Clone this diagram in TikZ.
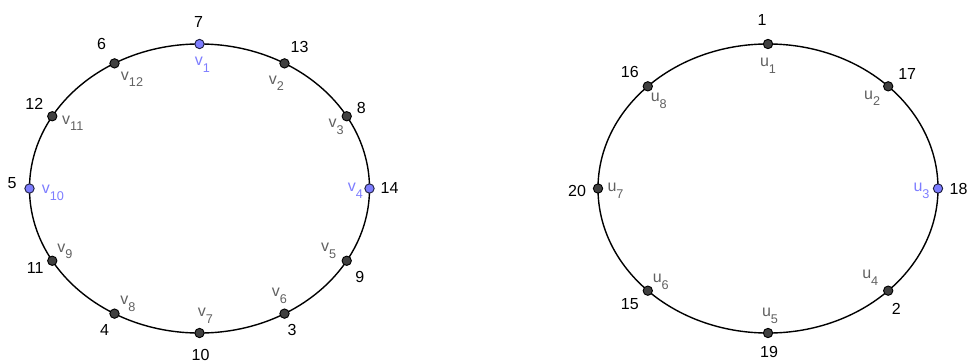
\documentclass[tikz,border=0pt]{standalone}
\usepackage{fontspec}
\setmainfont{Liberation Sans}
\definecolor{ptgray}{rgb}{0.25, 0.25, 0.25}
\definecolor{labgray}{rgb}{0.38, 0.38, 0.38}
\definecolor{ptblue}{rgb}{0.49, 0.49, 1.00}
\newcommand{\idx}[2]{#1\raisebox{-5pt}{\fontsize{9.5}{10}\selectfont #2}}

\begin{document}
\begin{tikzpicture}[x=0.75pt,y=0.75pt,every node/.style={inner sep=0pt, outer sep=0pt, font=\fontsize{12}{14}\selectfont},
  pt/.style={circle, draw=black, fill=ptgray, line width=0.7pt, minimum size=7pt},
  ptb/.style={pt, fill=ptblue, draw=black!75!ptblue},
  num/.style={text=black},
  lab/.style={text=labgray},
  labb/.style={text=ptblue}]

\useasboundingbox (0,0) rectangle (970,362);

% left cycle
\begin{scope}[shift={(199.5,173.5)}]
\draw[line width=1.05pt] (0,0) ellipse [x radius=127.5pt, y radius=108.4pt];

\node[ptb] (v1)  at (90:170 and 144.5) {};
\node[pt]  (v2)  at (60:170 and 144.5) {};
\node[pt]  (v3)  at (30:170 and 144.5) {};
\node[ptb] (v4)  at (0:170 and 144.5) {};
\node[pt]  (v5)  at (-30:170 and 144.5) {};
\node[pt]  (v6)  at (-60:170 and 144.5) {};
\node[pt]  (v7)  at (-90:170 and 144.5) {};
\node[pt]  (v8)  at (-120:170 and 144.5) {};
\node[pt]  (v9)  at (-150:170 and 144.5) {};
\node[ptb] (v10) at (180:170 and 144.5) {};
\node[pt]  (v11) at (150:170 and 144.5) {};
\node[pt]  (v12) at (120:170 and 144.5) {};
\end{scope}

\node[num]  (v1n)  at ([shift={(-1,22)}]v1) {7};
\node[labb] (v1l)  at ([shift={(3,-21)}]v1) {\idx{v}{1}};
\node[num]  (v2n)  at ([shift={(15,16.5)}]v2) {13};
\node[lab]  (v2l)  at ([shift={(-8,-20)}]v2) {\idx{v}{2}};
\node[num]  (v3n)  at ([shift={(14.5,8)}]v3) {8};
\node[lab]  (v3l)  at ([shift={(-10.5,-10.5)}]v3) {\idx{v}{3}};
\node[num]  (v4n)  at ([shift={(20,1)}]v4) {14};
\node[labb] (v4l)  at ([shift={(-14,-2)}]v4) {\idx{v}{4}};
\node[num]  (v5n)  at ([shift={(13,-16.5)}]v5) {9};
\node[lab]  (v5l)  at ([shift={(-18,10)}]v5) {\idx{v}{5}};
\node[num]  (v6n)  at ([shift={(7.5,-16.5)}]v6) {3};
\node[lab]  (v6l)  at ([shift={(-5,18)}]v6) {\idx{v}{6}};
\node[num]  (v7n)  at ([shift={(1,-22)}]v7) {10};
\node[lab]  (v7l)  at ([shift={(6,17.5)}]v7) {\idx{v}{7}};
\node[num]  (v8n)  at ([shift={(-10,-16.5)}]v8) {4};
\node[lab]  (v8l)  at ([shift={(13.5,9.5)}]v8) {\idx{v}{8}};
\node[num]  (v9n)  at ([shift={(-17,-7)}]v9) {11};
\node[lab]  (v9l)  at ([shift={(12.5,9.5)}]v9) {\idx{v}{9}};
\node[num]  (v10n) at ([shift={(-17.5,5)}]v10) {5};
\node[labb] (v10l) at ([shift={(23.5,-4)}]v10) {\idx{v}{10}};
\node[num]  (v11n) at ([shift={(-18,12)}]v11) {12};
\node[lab]  (v11l) at ([shift={(20.5,-7)}]v11) {\idx{v}{11}};
\node[num]  (v12n) at ([shift={(-13,19.5)}]v12) {6};
\node[lab]  (v12l) at ([shift={(17.5,-16)}]v12) {\idx{v}{12}};

% right cycle
\begin{scope}[shift={(768,173.5)}]
\draw[line width=1.05pt] (0,0) ellipse [x radius=127.5pt, y radius=108.4pt];

\node[pt]  (u1) at (90:170 and 144.5) {};
\node[pt]  (u2) at (45:170 and 144.5) {};
\node[ptb] (u3) at (0:170 and 144.5) {};
\node[pt]  (u4) at (-45:170 and 144.5) {};
\node[pt]  (u5) at (-90:170 and 144.5) {};
\node[pt]  (u6) at (-135:170 and 144.5) {};
\node[pt]  (u7) at (180:170 and 144.5) {};
\node[pt]  (u8) at (135:170 and 144.5) {};
\end{scope}

\node[num]  (u1n) at ([shift={(-6,24)}]u1) {1};
\node[lab]  (u1l) at ([shift={(0,-22)}]u1) {\idx{u}{1}};
\node[num]  (u2n) at ([shift={(19,12)}]u2) {17};
\node[lab]  (u2l) at ([shift={(-16,-12)}]u2) {\idx{u}{2}};
\node[num]  (u3n) at ([shift={(20.5,0)}]u3) {18};
\node[labb] (u3l) at ([shift={(-16.5,-2)}]u3) {\idx{u}{3}};
\node[num]  (u4n) at ([shift={(8,-18)}]u4) {2};
\node[lab]  (u4l) at ([shift={(-18,13)}]u4) {\idx{u}{4}};
\node[num]  (u5n) at ([shift={(1,-18.5)}]u5) {19};
\node[lab]  (u5l) at ([shift={(2,17)}]u5) {\idx{u}{5}};
\node[num]  (u6n) at ([shift={(-18,-13)}]u6) {15};
\node[lab]  (u6l) at ([shift={(13,9)}]u6) {\idx{u}{6}};
\node[num]  (u7n) at ([shift={(-21,-2)}]u7) {20};
\node[lab]  (u7l) at ([shift={(17.5,-2)}]u7) {\idx{u}{7}};
\node[num]  (u8n) at ([shift={(-18,14.5)}]u8) {16};
\node[lab]  (u8l) at ([shift={(11,-14.5)}]u8) {\idx{u}{8}};

\end{tikzpicture}
\end{document}
